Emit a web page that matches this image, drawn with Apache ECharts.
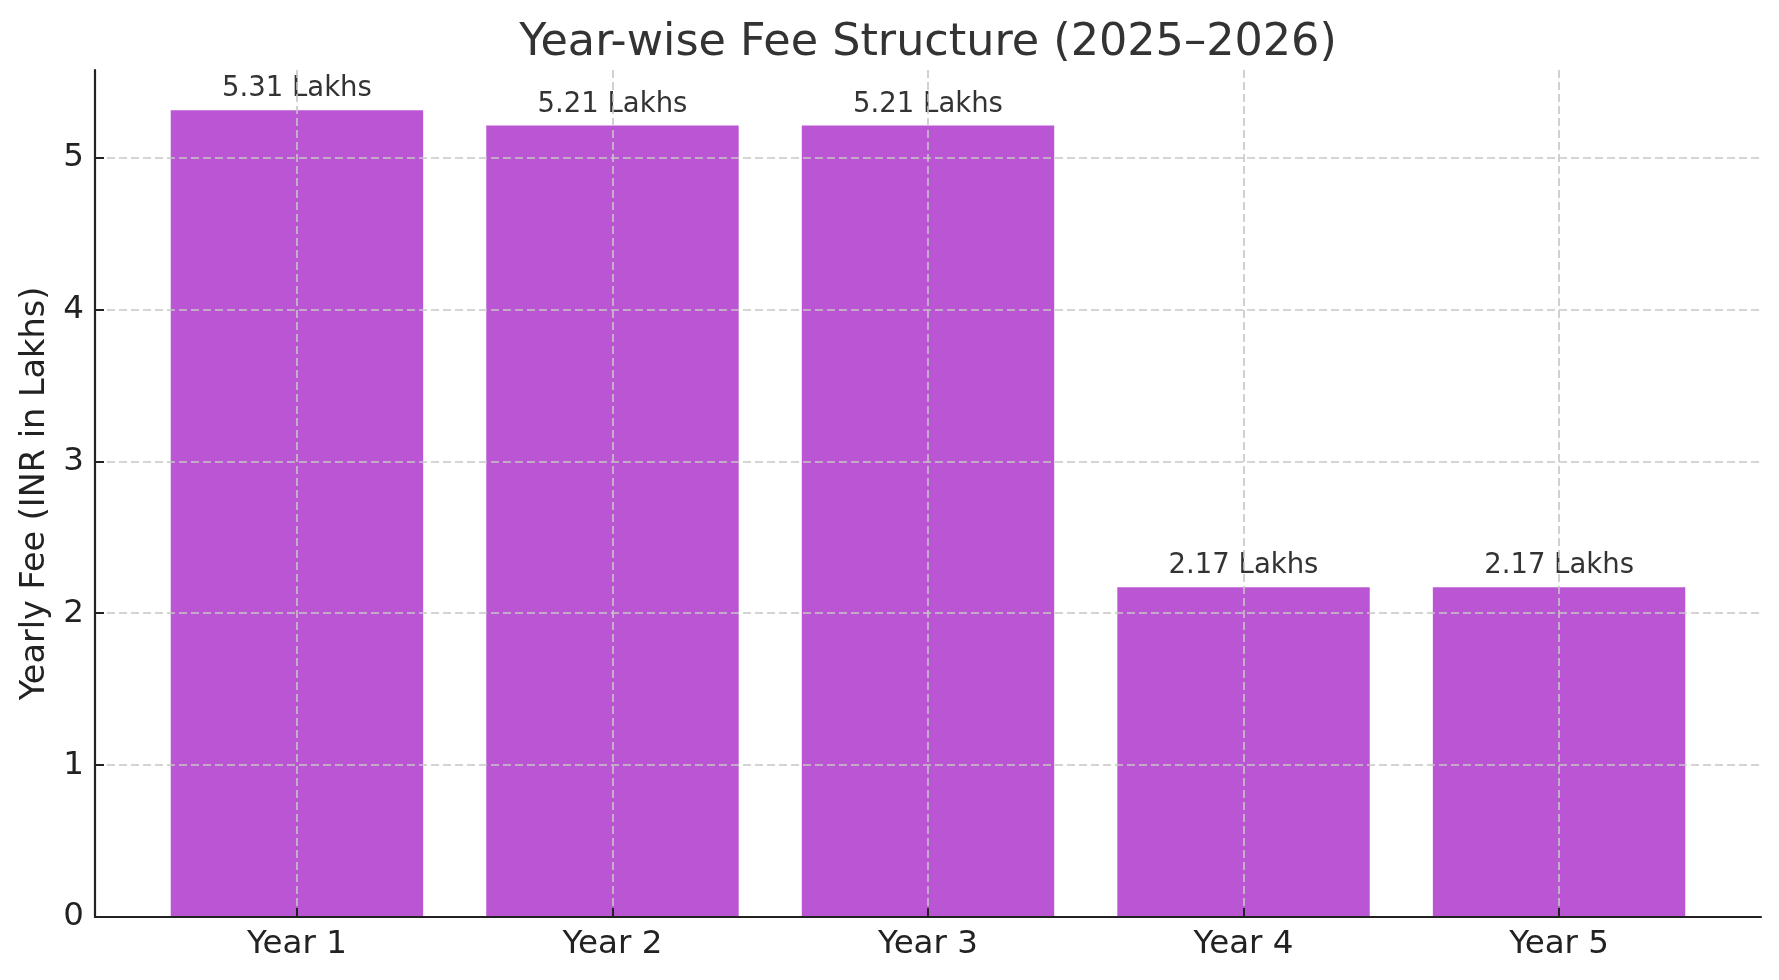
<!DOCTYPE html>
<html>
<head>
<meta charset="utf-8">
<script src="https://cdn.jsdelivr.net/npm/echarts@6/dist/echarts.min.js"></script>
<style>
html,body{margin:0;padding:0;background:#fff;}
#chart{width:1779px;height:980px;}
</style>
</head>
<body>
<div id="chart"></div>
<script>
const categories = ['Year 1', 'Year 2', 'Year 3', 'Year 4', 'Year 5'];
const fees = [5.31, 5.21, 5.21, 2.17, 2.17];
const yTicks = [0, 1, 2, 3, 4, 5];
const titleText = 'Year-wise Fee Structure (2025–2026)';
const yAxisTitle = 'Yearly Fee (INR in Lakhs)';

const W = 1779, H = 980;
const gridL = 95, gridR = 18, gridT = 70, gridB = 63;
const plotW = W - gridL - gridR;
const xMin = -0.64, xMax = categories.length - 1 + 0.64;
const barW = plotW * 0.8 / (xMax - xMin);
const yMax = Math.max(...fees) * 1.05;
const FONT = 'DejaVu Sans';

const chart = echarts.init(document.getElementById('chart'), null, {renderer: 'canvas'});
const gridLine = {show: true, lineStyle: {color: '#c6c6c6', width: 1.6, type: [8, 4]}};

chart.setOption({
  backgroundColor: '#ffffff',
  animation: false,
  title: {
    text: titleText,
    left: gridL + plotW / 2 - 5,
    textAlign: 'center',
    top: 16,
    textStyle: {fontFamily: FONT, fontSize: 44.5, fontWeight: 'normal', color: '#333333'}
  },
  grid: {left: gridL, right: gridR, top: gridT, bottom: gridB, containLabel: false},
  xAxis: {
    type: 'value',
    min: xMin,
    max: xMax,
    z: 5,
    axisLine: {show: true, onZero: false, lineStyle: {color: '#222222', width: 2.2}},
    axisTick: {show: true, inside: true, length: 9, customValues: categories.map((c, i) => i), lineStyle: {color: '#222222', width: 2}},
    axisLabel: {
      customValues: categories.map((c, i) => i),
      formatter: v => categories[Math.round(v)] || '',
      fontFamily: FONT, fontSize: 32.5, color: '#222222', margin: 11
    },
    splitLine: gridLine
  },
  yAxis: {
    type: 'value',
    min: 0,
    max: yMax,
    z: 5,
    name: yAxisTitle,
    nameLocation: 'middle',
    nameGap: 42,
    nameTextStyle: {fontFamily: FONT, fontSize: 33.5, color: '#222222'},
    axisLine: {show: true, onZero: false, lineStyle: {color: '#222222', width: 2.2}},
    axisTick: {show: true, inside: true, length: 9, customValues: yTicks, lineStyle: {color: '#222222', width: 2}},
    axisLabel: {
      customValues: yTicks,
      fontFamily: FONT, fontSize: 32.5, color: '#222222', margin: 11
    },
    splitLine: gridLine
  },
  series: [{
    type: 'bar',
    data: fees.map((v, i) => [i, v]),
    barWidth: barW,
    itemStyle: {color: '#BA55D3'},
    label: {
      show: true,
      position: 'top',
      distance: 7,
      formatter: p => p.value[1].toFixed(2) + ' Lakhs',
      fontFamily: FONT, fontSize: 27.5, color: '#333333'
    }
  }]
});
</script>
</body>
</html>
